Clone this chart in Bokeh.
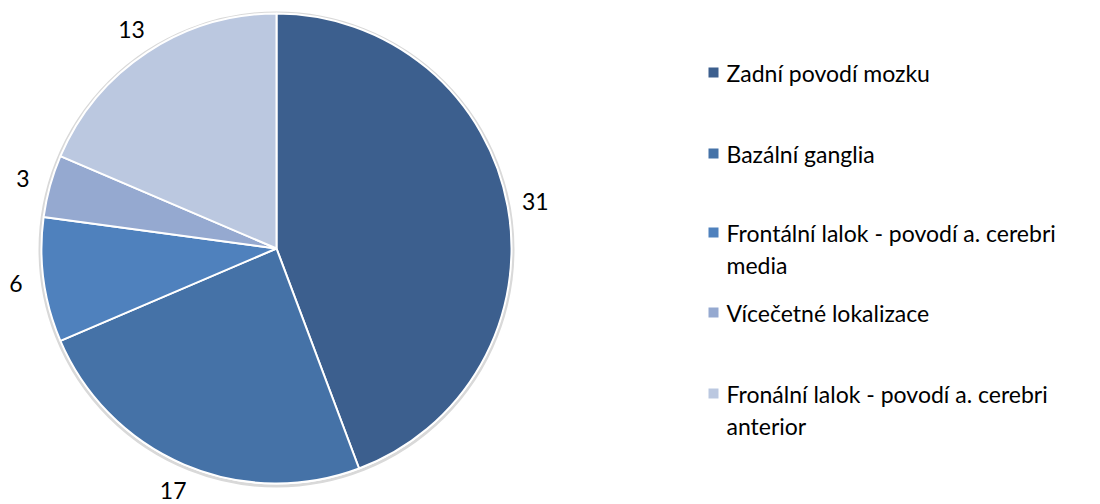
import math
from bokeh.plotting import figure
from bokeh.models import Range1d
from bokeh.core.properties import value
from bokeh.embed import file_html
from bokeh.resources import INLINE

categories = ["Zadní povodí mozku", "Bazální ganglia",
              "Frontální lalok - povodí  a. cerebri\nmedia",
              "Vícečetné lokalizace",
              "Fronální lalok - povodí a. cerebri\nanterior"]
values = [31, 17, 6, 3, 13]
colors = ["#3C5F8E", "#4572A7", "#4F81BD", "#95A9D0", "#BBC8E0"]

W, H = 1100, 504
p = figure(width=W, height=H, output_backend="svg", toolbar_location=None,
           x_range=Range1d(0, W), y_range=Range1d(0, H),
           min_border=0)
p.axis.visible = False
p.grid.visible = False
p.outline_line_color = None
p.background_fill_color = "white"

def Y(y):
    return 504 - y

cx, cy, r = 276, Y(248), 235
total = sum(values)
starts, ends, lx, ly = [], [], [], []
cum = 0
for v in values:
    a0 = math.pi / 2 - cum / total * 2 * math.pi
    cum += v
    a1 = math.pi / 2 - cum / total * 2 * math.pi
    starts.append(a0)
    ends.append(a1)
    m = (a0 + a1) / 2
    lx.append(cx + 263 * math.cos(m))
    ly.append(cy + 263 * math.sin(m))

# soft shadow ring
p.circle(x=[cx], y=[cy - 1], radius=r + 1.5, fill_color=None,
         line_color="#d9d9d9", line_width=3)
p.wedge(x=cx, y=cy, radius=r, start_angle=starts, end_angle=ends,
        direction="clock", fill_color=colors, line_color="white", line_width=2)

p.text(x=lx, y=ly, text=[str(v) for v in values], text_align="center",
       text_baseline="middle", text_font=value("Lato"), text_font_size="23px",
       text_color="#000000")

# legend
row_y = [72, 153, 232, 312, 393]
sq_x, tx = 713, 726
for lab, col, ry in zip(categories, colors, row_y):
    p.rect(x=[sq_x], y=[Y(ry)], width=10, height=10, fill_color=col,
           line_color=None)
    for i, line in enumerate(lab.split("\n")):
        p.text(x=[tx], y=[Y(ry + i * 32)], text=[line], text_align="left",
               text_baseline="middle", text_font=value("Lato"),
               text_font_size="23px", text_color="#000000")

open("out.html", "w").write(file_html(p, INLINE))
